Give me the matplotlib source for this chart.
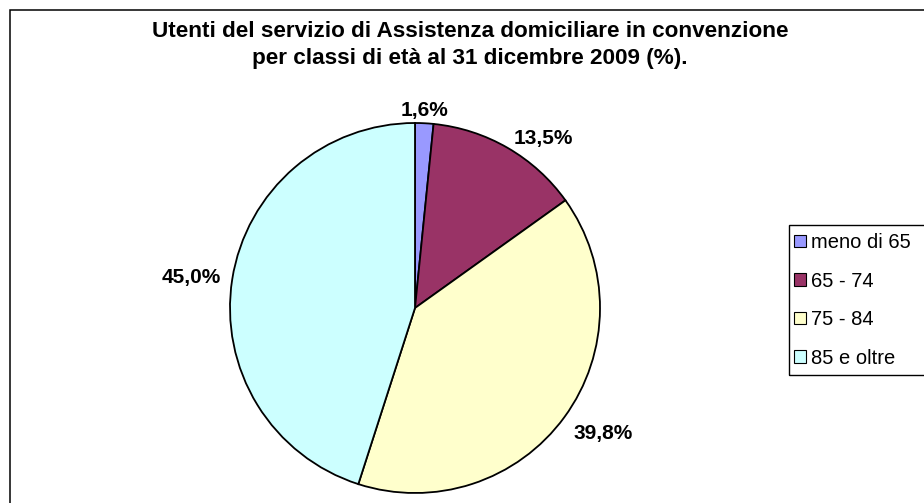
import numpy as np
import matplotlib
matplotlib.use("Agg")
import matplotlib.pyplot as plt
from matplotlib.patches import Rectangle, Patch

plt.rcParams['font.family'] = ['Liberation Sans', 'DejaVu Sans']

# data
categories = ['meno di 65', '65 - 74', '75 - 84', '85 e oltre']
percent = [1.6, 13.5, 39.8, 45.0]
colors = ['#9999FF', '#993366', '#FFFFCC', '#CCFFFF']
title = ('Utenti del servizio di Assistenza domiciliare in convenzione\n'
         'per classi di età al 31 dicembre 2009 (%).')

W, H = 924, 503
fig = plt.figure(figsize=(W / 100, H / 100), dpi=100)

# outer chart frame (cropped on the right and bottom like the original)
fig.patches.append(Rectangle((10 / W, -0.05), 1.1, 1 - 10 / H + 0.05,
                             transform=fig.transFigure, fill=False,
                             edgecolor='black', linewidth=1.1))

fig.text(470 / W, 1 - 45 / H, title, ha='center', va='center',
         fontsize=16.2, fontweight='bold', linespacing=1.32)

# pie, centre (415, 308) px, radius 185 px
cx, cy, r = 415, 308, 185
ax = fig.add_axes([(cx - r) / W, (H - cy - r) / H, 2 * r / W, 2 * r / H])
wedges, _ = ax.pie(percent, colors=colors, startangle=90, counterclock=False,
                   wedgeprops=dict(edgecolor='black', linewidth=1.3))
for w in wedges:
    w.set_clip_on(False)
ax.set_xlim(-1, 1)
ax.set_ylim(-1, 1)
ax.axis('off')

# data labels just outside each wedge
for w, v in zip(wedges, percent):
    theta = np.deg2rad((w.theta1 + w.theta2) / 2)
    c, s = np.cos(theta), np.sin(theta)
    ha = 'left' if c > 0.2 else ('right' if c < -0.2 else 'center')
    va = 'bottom' if s > 0.95 else ('top' if s < -0.4 else 'center')
    rr = 1.02 if va == 'bottom' else 1.06
    ax.text(rr * c, rr * s, f'{v:.1f}%'.replace('.', ','), ha=ha, va=va,
            fontsize=15, fontweight='bold')

# legend box
fig.patches.append(Rectangle((789 / W, 1 - 375 / H), 0.3, (375 - 225) / H,
                             transform=fig.transFigure, fill=False,
                             edgecolor='black', linewidth=1.0))
handles = [Patch(facecolor=c, edgecolor='black', linewidth=0.8) for c in colors]
fig.legend(handles, categories, loc='upper left',
           bbox_to_anchor=(794 / W, 1 - 233 / H), frameon=False,
           fontsize=14.5, handlelength=0.6, handleheight=0.6,
           handletextpad=0.25, labelspacing=0.97, borderpad=0,
           borderaxespad=0)

fig.savefig('out.png', dpi=100)
